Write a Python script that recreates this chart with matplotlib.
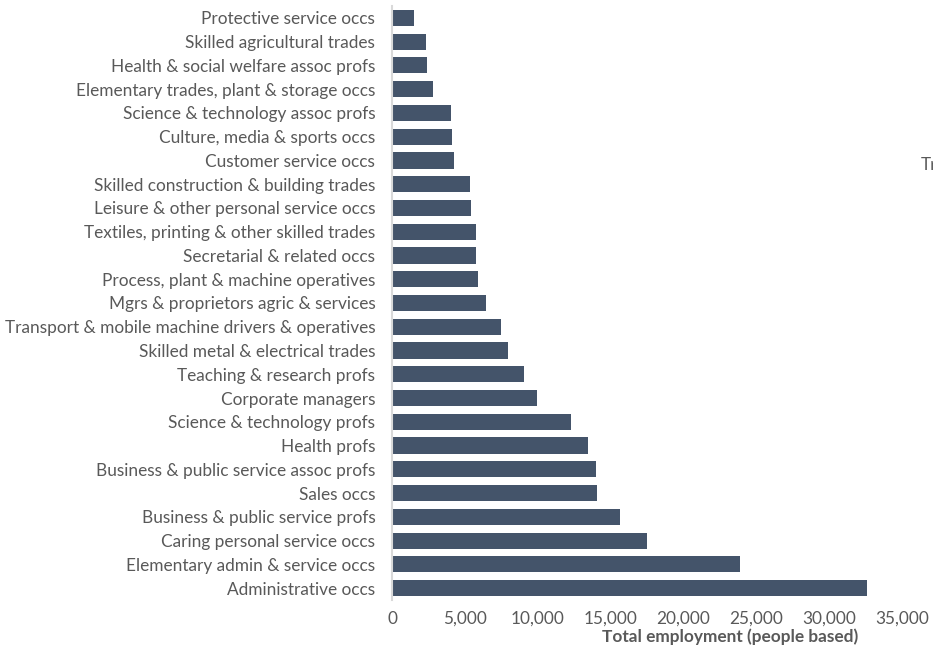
import matplotlib.pyplot as plt
from matplotlib.ticker import FuncFormatter

# occupations, top to bottom as shown in the chart
occupations = [
    "Protective service occs",
    "Skilled agricultural trades",
    "Health & social welfare assoc profs",
    "Elementary trades, plant & storage occs",
    "Science & technology assoc profs",
    "Culture, media & sports occs",
    "Customer service occs",
    "Skilled construction & building trades",
    "Leisure & other personal service occs",
    "Textiles, printing & other skilled trades",
    "Secretarial & related occs",
    "Process, plant & machine operatives",
    "Mgrs & proprietors agric & services",
    "Transport & mobile machine drivers & operatives",
    "Skilled metal & electrical trades",
    "Teaching & research profs",
    "Corporate managers",
    "Science & technology profs",
    "Health profs",
    "Business & public service assoc profs",
    "Sales occs",
    "Business & public service profs",
    "Caring personal service occs",
    "Elementary admin & service occs",
    "Administrative occs",
]
employment = [
    1510, 2330, 2400, 2810, 4050, 4120, 4250, 5350, 5420, 5770, 5770, 5900,
    6450, 7480, 7960, 9070, 9950, 12260, 13450, 14010, 14080, 15650, 17480,
    23900, 32600,
]
x_ticks = [0, 5000, 10000, 15000, 20000, 25000, 30000, 35000]

plt.rcParams['font.family'] = ['Lato', 'DejaVu Sans']

fig = plt.figure(figsize=(9.33, 6.49), dpi=100)
ax = fig.add_axes([392 / 933, 1 - 600 / 649, (902 - 392) / 933, (600 - 6) / 649])

ypos = list(range(len(occupations)))
ax.barh(ypos, employment, height=0.68, color="#44546A", edgecolor="none")
ax.set_ylim(len(occupations) - 0.5, -0.5)
ax.set_yticks(ypos)
ax.set_yticklabels(occupations, fontsize=12.4, color="#595959")
ax.set_xlim(0, 35000)
ax.set_xticks(x_ticks)
ax.xaxis.set_major_formatter(FuncFormatter(lambda v, p: f"{int(v):,}"))
ax.tick_params(axis="x", labelsize=12.4, labelcolor="#595959", length=0, pad=8)
ax.tick_params(axis="y", length=0, pad=12)

for side in ["top", "right", "bottom"]:
    ax.spines[side].set_visible(False)
ax.spines["left"].set_color("#D9D9D9")
ax.spines["left"].set_linewidth(1.5)

ax.set_xlabel("Total employment (people based)", fontsize=12.4, fontweight="bold",
              color="#595959")
ax.xaxis.set_label_coords((730 - 392) / (902 - 392), -0.048)

# legend text cut off by the right edge in the original
fig.text(921 / 933, 1 - 165 / 649, "Transport", fontsize=12.4, color="#595959",
         va="center", ha="left")

fig.savefig("out.png", dpi=100)
